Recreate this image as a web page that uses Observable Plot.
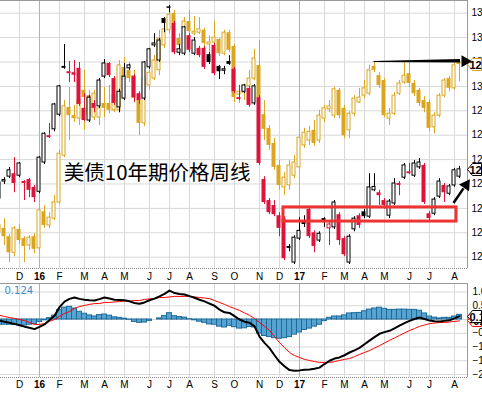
<!DOCTYPE html>
<html>
<head>
<meta charset="utf-8">
<script src="https://cdn.jsdelivr.net/npm/d3@7"></script>
<script src="https://cdn.jsdelivr.net/npm/@observablehq/plot@0.6"></script>
<style>
html,body{margin:0;padding:0;background:#fff;}
#chart{position:relative;width:482px;height:397px;overflow:hidden;background:#fff;}
#chart svg{position:absolute;left:0;}
</style>
</head>
<body>
<div id="chart"></div>
<script>
// ---------- data (weekly bars, Fridays from 2015-11-06 to 2017-08-11) ----------
const firstBar = "2015-11-06";
const lastBar = "2017-08-11";

const blackOpen = [127.70,128.05,128.15,128.21,128.17,128.05,128.09,127.93,127.84,128.44,
128.99,129.12,129.42,130.41,130.30,130.28,130.37,129.55,129.30,129.65,
129.59,130.20,130.47,130.16,129.57,129.75,130.37,130.20,129.85,129.75,
130.39,130.84,130.53,131.39,131.63,131.29,130.69,130.67,131.04,130.67,
130.78,130.78,130.65,130.84,130.41,130.32,130.51,130.35,129.77,129.89,
129.96,129.65,129.77,128.09,127.66,127.56,127.35,127.29,126.72,126.39,
126.88,127.21,127.48,127.00,126.84,127.29,127.09,127.11,127.37,126.88,
126.39,127.07,127.35,127.43,127.33,127.87,127.82,127.66,127.35,127.60,
128.01,128.13,128.25,128.17,128.34,128.38,127.39,127.39,127.74,127.97,
127.80,127.97,128.15];
const blackHigh = [128.07,128.13,128.34,128.54,128.44,128.07,128.11,127.97,128.56,129.05,
129.24,129.65,130.02,130.86,130.51,130.53,130.49,129.85,129.81,129.71,
130.16,130.55,130.49,130.20,129.94,130.47,130.45,130.24,129.89,130.51,
130.78,131.08,130.98,131.41,131.66,131.33,130.86,131.23,131.08,131.00,
130.82,130.82,130.69,130.88,130.43,130.41,130.63,130.39,130.02,130.04,
130.00,130.04,129.81,128.15,127.70,127.66,127.41,127.33,126.76,126.94,
127.31,127.35,127.52,127.04,127.02,127.31,127.21,127.66,127.41,126.92,
126.96,127.33,127.39,127.48,128.21,128.21,127.87,127.70,127.68,128.11,
128.05,128.42,128.42,128.48,128.52,128.42,127.43,127.72,128.11,128.01,
127.99,128.32,128.36];
const blackLow = [127.66,127.99,128.11,127.82,128.13,127.66,127.72,127.62,127.80,128.40,
128.93,129.07,129.38,130.35,130.08,130.08,129.59,129.28,129.26,129.46,
129.55,130.16,130.18,129.61,129.46,129.71,130.33,129.67,129.63,129.71,
130.35,130.80,130.49,131.10,131.51,130.65,130.63,130.63,130.69,130.63,
130.59,130.35,130.45,130.22,130.14,130.24,130.43,129.85,129.71,129.85,
129.57,129.61,128.38,127.58,127.37,127.33,126.92,126.43,126.61,126.35,
126.84,127.11,126.88,126.59,126.80,127.11,126.74,127.07,126.74,126.51,
126.35,127.02,127.09,127.29,127.29,127.84,127.56,127.48,127.29,127.56,
127.76,128.09,128.19,128.13,128.30,127.58,127.25,127.35,127.70,127.62,
127.76,127.93,128.11];
const blackClose = [128.03,128.08,128.28,128.01,128.42,128.01,127.87,127.72,128.54,129.03,
128.95,129.63,130.00,130.37,130.26,130.23,129.63,129.30,129.77,129.55,
130.12,130.47,130.22,129.65,129.89,130.20,130.43,129.77,129.71,130.49,
130.76,130.88,130.94,131.29,131.60,130.69,130.76,131.21,130.74,130.94,
130.63,130.39,130.49,130.26,130.30,130.35,130.45,129.89,129.73,130.02,
129.61,130.00,128.42,127.62,127.41,127.37,127.09,126.47,126.68,126.90,
127.04,127.17,126.92,126.72,126.98,127.25,127.17,127.62,126.84,126.55,
126.92,127.29,127.15,127.33,127.93,127.94,127.76,127.56,127.64,128.01,
127.97,128.38,128.21,128.42,128.44,127.62,127.29,127.68,128.05,127.82,
127.95,128.28,128.30];

const goldOpen = [121.87,121.79,121.62,121.29,121.77,121.58,121.44,121.62,121.38,122.13,
121.85,121.99,122.32,123.28,124.27,124.10,124.04,124.62,124.51,124.06,
124.06,124.35,124.35,124.21,124.21,125.09,125.03,124.92,124.41,123.94,
124.72,124.86,125.03,125.54,125.85,126.19,125.68,125.89,126.03,125.78,
125.80,125.85,125.56,125.60,125.66,125.37,125.80,125.52,124.53,124.57,
124.70,124.86,125.13,124.12,123.84,123.53,123.08,122.63,122.67,122.87,
123.04,123.49,123.59,123.80,123.59,124.04,124.23,124.10,124.62,124.25,
123.80,124.14,124.37,124.51,124.55,125.11,124.92,124.82,124.04,124.14,
124.55,124.78,124.96,124.76,124.62,124.41,124.37,123.86,124.10,124.51,
124.86,124.66,125.20];
const goldHigh = [121.95,121.99,121.66,121.83,121.87,121.62,121.64,121.68,122.20,122.26,
122.11,122.46,123.39,124.41,124.68,124.31,124.51,125.03,124.62,124.62,
124.41,124.68,124.72,124.62,125.23,125.29,125.19,125.03,124.47,124.92,
125.13,125.33,125.85,125.95,126.26,126.26,125.78,126.11,126.26,126.13,
126.11,125.89,125.74,126.03,125.68,125.85,125.85,125.56,124.66,124.74,
125.03,125.46,125.64,124.41,123.90,123.63,123.18,122.93,123.18,123.28,
123.73,123.84,123.88,124.00,124.21,124.31,124.41,124.68,124.66,124.31,
124.18,124.51,124.66,124.82,125.13,125.19,124.98,124.86,124.25,124.57,
124.82,125.19,125.19,124.82,124.66,124.49,124.41,124.16,124.55,124.86,
124.90,125.17,125.21];
const goldLow = [121.58,121.44,121.09,121.21,121.46,121.09,121.34,121.27,121.34,121.79,
121.79,121.95,122.28,123.24,123.59,123.96,123.90,123.80,124.00,124.00,
123.90,124.06,124.14,124.16,124.16,124.74,124.78,124.39,123.69,123.88,
124.62,124.82,124.92,125.48,125.78,125.95,125.37,125.85,125.78,125.74,
125.76,125.52,125.37,125.56,125.31,125.33,125.39,124.37,124.35,124.41,
124.66,124.82,124.41,123.59,123.39,122.98,122.57,122.46,122.57,122.81,
122.98,123.43,123.49,123.47,123.53,123.96,124.16,124.04,124.04,123.63,
123.63,124.08,124.35,124.45,124.51,124.98,124.66,124.06,123.90,124.10,
124.51,124.74,124.68,124.49,124.29,124.16,123.77,123.73,124.06,124.47,
124.59,124.62,124.80];
const goldClose = [121.70,121.62,121.29,121.79,121.54,121.42,121.60,121.36,122.16,121.85,
122.01,122.32,123.32,124.29,124.10,124.04,124.41,124.47,124.10,124.55,
124.25,124.25,124.21,124.51,125.13,124.82,124.86,124.45,123.94,124.86,
124.98,125.23,125.68,125.87,126.17,125.99,125.54,126.03,125.82,125.82,
125.87,125.58,125.60,125.70,125.37,125.80,125.44,124.47,124.59,124.70,
124.86,125.27,124.47,123.82,123.49,123.04,122.67,122.83,123.08,123.14,
123.65,123.75,123.77,123.53,124.10,124.25,124.29,124.64,124.10,123.69,
124.14,124.45,124.47,124.66,125.03,125.03,124.72,124.10,124.14,124.51,
124.76,124.92,124.76,124.55,124.35,124.25,123.84,124.10,124.51,124.82,
124.66,125.13,125.15];

const macdLine = [-0.04,-0.08,-0.12,-0.16,-0.21,-0.26,-0.30,-0.35,-0.27,-0.18,
-0.02,0.14,0.45,0.65,0.75,0.80,0.75,0.72,0.70,0.69,
0.74,0.80,0.76,0.72,0.71,0.70,0.66,0.60,0.57,0.62,
0.70,0.76,0.84,0.93,1.05,0.96,0.93,0.91,0.85,0.79,
0.72,0.66,0.58,0.50,0.36,0.26,0.24,0.12,0.00,-0.08,
-0.12,-0.25,-0.62,-0.85,-1.04,-1.30,-1.54,-1.70,-1.84,-1.86,
-1.85,-1.83,-1.82,-1.79,-1.75,-1.62,-1.50,-1.42,-1.38,-1.30,
-1.20,-1.12,-1.03,-0.90,-0.77,-0.64,-0.52,-0.46,-0.41,-0.32,
-0.22,-0.13,-0.05,0.02,0.07,0.02,-0.04,-0.06,-0.07,-0.05,
-0.03,0.04,0.12];
const signalLine = [0.15,0.11,0.07,0.04,0.00,-0.04,-0.11,-0.18,-0.18,-0.15,
-0.07,0.00,0.11,0.22,0.29,0.40,0.47,0.51,0.55,0.58,
0.58,0.62,0.62,0.64,0.65,0.67,0.67,0.69,0.69,0.73,
0.75,0.76,0.80,0.80,0.82,0.84,0.84,0.84,0.84,0.82,
0.80,0.78,0.76,0.69,0.62,0.55,0.47,0.40,0.33,0.24,
0.15,0.04,-0.11,-0.25,-0.40,-0.62,-0.84,-1.02,-1.20,-1.31,
-1.38,-1.45,-1.49,-1.53,-1.56,-1.56,-1.56,-1.53,-1.49,-1.45,
-1.42,-1.35,-1.27,-1.20,-1.13,-1.04,-0.95,-0.85,-0.76,-0.67,
-0.58,-0.49,-0.40,-0.33,-0.25,-0.20,-0.15,-0.13,-0.11,-0.11,
-0.09,-0.07,-0.05];
const histogram = [-0.19,-0.19,-0.19,-0.20,-0.21,-0.22,-0.19,-0.17,-0.09,-0.03,
0.05,0.14,0.34,0.43,0.46,0.40,0.28,0.21,0.15,0.11,
0.16,0.18,0.14,0.08,0.06,0.03,-0.01,-0.09,-0.12,-0.11,
-0.05,0.00,0.04,0.13,0.23,0.12,0.09,0.07,0.01,-0.03,
-0.08,-0.12,-0.18,-0.19,-0.26,-0.29,-0.23,-0.28,-0.33,-0.32,
-0.27,-0.29,-0.51,-0.60,-0.64,-0.68,-0.70,-0.68,-0.64,-0.55,
-0.47,-0.38,-0.33,-0.26,-0.19,-0.06,0.06,0.11,0.11,0.15,
0.22,0.23,0.24,0.30,0.36,0.40,0.43,0.39,0.35,0.35,
0.36,0.36,0.35,0.35,0.32,0.22,0.11,0.07,0.04,0.06,
0.06,0.11,0.17];

const priceTicks = [126.5,127,127.5,128,128.5,129,129.5,130,130.5,131,131.5];
const macdTicks = [-2,-1.5,-1,-0.5,0,0.5,1];
const monthLabels = ["D","16","F","M","A","M","J","J","A","S","O","N","D","17","F","M","A","M","J","J","A"];
const macdLegend = "0.124";
const titleText = "美债10年期价格周线";
const titleAt = {date: "2016-02-04", price: 128.22};
const boxDates = ["2016-12-07T14:00Z", "2017-08-06T19:00Z"];
const boxPrices = [127.23, 127.52];
const arrow1 = [{date: "2017-04-13T07:00Z", lo: 130.49, hi: 130.51}, {date: "2017-08-12T10:00Z", lo: 130.48, hi: 130.55}];
const arrow2 = {d1: "2017-08-02T14:00Z", p1: 127.61, d2: "2017-08-16T14:00Z", p2: 127.91};
const heads = [{date: "2017-08-18T17:00Z", price: 130.515, angle: 90}, {date: "2017-08-20T02:00Z", price: 127.98, angle: 34}];

// ---------- setup ----------
const GOLD = "#DAA520", CRIMSON = "#DC143C", GRID = "#d8d8d8", YEARGRID = "#b0b0b0", BORDER = "#999";
const FONT = "Arial, 'Liberation Sans', sans-serif";
const DAY = 864e5;
const barDates = d3.utcFriday.range(new Date(firstBar + "T00:00Z"), d3.utcDay.offset(new Date(lastBar + "T00:00Z"), 1));
const xDomain = [new Date("2015-11-07T09:36Z"), new Date("2017-08-22T04:48Z")];
const priceDomain = [126.268, 131.76];
const goldDomain = [120.968, 126.46];
const macdDomain = [-2.109, 1.309];

const black = barDates.map((date, i) => {
  const prev = i ? blackClose[i - 1] : blackOpen[i];
  return {date, open: blackOpen[i], high: blackHigh[i], low: blackLow[i], close: blackClose[i],
    color: blackClose[i] >= prev ? "#000" : CRIMSON, hollow: blackClose[i] > blackOpen[i]};
});
const gold = barDates.map((date, i) => ({date, open: goldOpen[i], high: goldHigh[i], low: goldLow[i], close: goldClose[i], hollow: goldClose[i] > goldOpen[i]}));
const macd = barDates.map((date, i) => ({date, macd: macdLine[i], signal: signalLine[i], hist: histogram[i]}));

const monthStarts = d3.utcMonth.range(new Date("2015-12-01T00:00Z"), new Date("2017-09-01T00:00Z"));
const monthTicks = monthStarts.map((m, k) => ({
  date: d3.least(barDates, d => Math.abs(d - m)),
  jan: m.getUTCMonth() === 0,
  label: monthLabels[k]
}));

const bx1 = d => new Date(+d.date - 3.5 * DAY);
const bx2 = d => new Date(+d.date + 3.5 * DAY);
const xScale = {type: "utc", domain: xDomain, axis: null};
const common = {width: 482, marginLeft: 0, marginRight: 15, marginTop: 0};
const style = {background: "none", fontFamily: FONT, fontSize: "10px", color: "#000", overflow: "visible"};

function monthLabelMarks(dy) {
  return [
    Plot.text(monthTicks.filter(d => !d.jan), {x: "date", text: "label", frameAnchor: "bottom", dy, lineAnchor: "middle", fontSize: 10, fill: "#000"}),
    Plot.text(monthTicks.filter(d => d.jan), {x: "date", text: "label", frameAnchor: "bottom", dy, lineAnchor: "middle", fontSize: 10, fontWeight: "bold", fill: "#000"})
  ];
}
function gridX() {
  return [
    Plot.ruleX(monthTicks.filter(d => !d.jan), {x: "date", stroke: GRID}),
    Plot.ruleX(monthTicks.filter(d => d.jan), {x: "date", stroke: YEARGRID})
  ];
}

// Layer 1: grid, borders, price axis, month labels
const base = Plot.plot({
  ...common, height: 283, marginBottom: 15, style,
  x: xScale, y: {domain: priceDomain, axis: null},
  marks: [
    Plot.ruleY(priceTicks, {stroke: GRID}),
    ...gridX(),
    Plot.ruleY([priceDomain[1]], {stroke: BORDER}),
    Plot.ruleY([priceDomain[0]], {stroke: "#888", strokeDasharray: "1,1"}),
    Plot.ruleX([xDomain[1]], {stroke: BORDER}),
    Plot.axisY(priceTicks, {anchor: "right", tickSize: 0, tickPadding: 4, tickFormat: d => String(d), fontSize: 10, label: null}),
    ...monthLabelMarks(8.5)
  ]
});

// Layer 2: gold overlay (own scale)
const goldPlot = Plot.plot({
  ...common, height: 283, marginBottom: 15, style,
  x: xScale, y: {domain: goldDomain, axis: null},
  marks: [
    Plot.ruleX(gold, {x: "date", y1: "low", y2: "high", stroke: GOLD}),
    Plot.rect(gold.filter(d => !d.hollow), {x1: bx1, x2: bx2, y1: "open", y2: "close", fill: GOLD, insetRight: 1}),
    Plot.rect(gold.filter(d => d.hollow), {x1: bx1, x2: bx2, y1: "open", y2: "close", fill: "#fff", stroke: GOLD, insetLeft: 0.5, insetRight: 1.5})
  ]
});

// Layer 3: main candles + annotations
const mainPlot = Plot.plot({
  ...common, height: 283, marginBottom: 15, style,
  x: xScale, y: {domain: priceDomain, axis: null},
  color: {type: "identity"},
  marks: [
    Plot.ruleX(black, {x: "date", y1: "low", y2: "high", stroke: "color"}),
    Plot.rect(black.filter(d => !d.hollow), {x1: bx1, x2: bx2, y1: "open", y2: "close", fill: "color", insetRight: 1}),
    Plot.rect(black.filter(d => d.hollow), {x1: bx1, x2: bx2, y1: "open", y2: "close", fill: "#fff", stroke: "color", insetLeft: 0.5, insetRight: 1.5}),
    Plot.rect([0], {x1: () => new Date(boxDates[0]), x2: () => new Date(boxDates[1]), y1: () => boxPrices[0], y2: () => boxPrices[1], fill: "none", stroke: "#ee3333", strokeWidth: 3}),
    Plot.areaY(arrow1, {x: d => new Date(d.date), y1: "lo", y2: "hi", fill: "#000"}),
    Plot.link([arrow2], {x1: d => new Date(d.d1), y1: "p1", x2: d => new Date(d.d2), y2: "p2", stroke: "#000", strokeWidth: 2.5}),
    Plot.dot(heads, {x: d => new Date(d.date), y: "price", symbol: "triangle", r: 4.5, fill: "#000", stroke: "none", rotate: "angle"}),
    Plot.text([titleAt], {x: d => new Date(d.date), y: "price", text: () => titleText, textAnchor: "start", fontSize: 20.5, fontFamily: "'Noto Sans CJK SC', sans-serif", fill: "#000"})
  ]
});

// Layer 4: MACD panel
const macdPlot = Plot.plot({
  ...common, height: 114, marginBottom: 20, style,
  x: xScale, y: {domain: macdDomain, axis: null},
  marks: [
    Plot.ruleY(macdTicks, {stroke: GRID}),
    ...gridX(),
    Plot.rect(macd, {x1: bx1, x2: bx2, y1: () => 0, y2: "hist", fill: "#56a3d2", stroke: "#1f6b99", strokeWidth: 1}),
    Plot.line(macd, {x: "date", y: "signal", stroke: "#ff0000", strokeWidth: 1}),
    Plot.line(macd, {x: "date", y: "macd", stroke: "#000", strokeWidth: 2}),
    Plot.ruleY([macdDomain[1]], {stroke: BORDER}),
    Plot.ruleY([macdDomain[0]], {stroke: "#888", strokeDasharray: "1,1"}),
    Plot.ruleX([xDomain[1]], {stroke: BORDER}),
    Plot.axisY(macdTicks, {anchor: "right", tickSize: 0, tickPadding: 5, tickFormat: d3.format(".1f"), fontSize: 10, label: null}),
    Plot.text([macdLegend], {frameAnchor: "top-left", dx: 4, dy: 7, lineAnchor: "middle", textAnchor: "start", fill: "#3a8ec8", fontSize: 10, fontFamily: "'DejaVu Sans', sans-serif"}),
    ...monthLabelMarks(7.5)
  ]
});

const chart = document.getElementById("chart");
[[base, 0], [goldPlot, 0], [mainPlot, 0], [macdPlot, 283]].forEach(([svg, top]) => {
  svg.style.top = top + "px";
  chart.appendChild(svg);
});

// last-value tags on the right edge
function addTag(svg, yPx, stroke, label) {
  const y = Math.round(yPx) + 0.5;
  const g = d3.select(svg).append("g");
  g.append("path")
    .attr("d", `M467.5,${y}L472.5,${y - 6}L481.5,${y - 6}L481.5,${y + 6}L472.5,${y + 6}Z`)
    .attr("fill", "#fff").attr("stroke", stroke);
  g.append("text").attr("x", 469.5).attr("y", y + 4)
    .attr("text-anchor", "start")
    .attr("font-family", FONT).attr("font-size", 11).attr("font-weight", "bold").attr("fill", "#000")
    .text(label);
}
addTag(goldPlot, goldPlot.scale("y").apply(goldClose[goldClose.length - 1]), GOLD, goldClose[goldClose.length - 1].toFixed(2));
addTag(mainPlot, mainPlot.scale("y").apply(blackClose[blackClose.length - 1]), "#000", blackClose[blackClose.length - 1].toFixed(2));
addTag(macdPlot, macdPlot.scale("y").apply(signalLine[signalLine.length - 1]), "#ff0000", signalLine[signalLine.length - 1].toFixed(3));
addTag(macdPlot, macdPlot.scale("y").apply(macdLine[macdLine.length - 1]), "#000", macdLegend);
</script>
</body>
</html>
